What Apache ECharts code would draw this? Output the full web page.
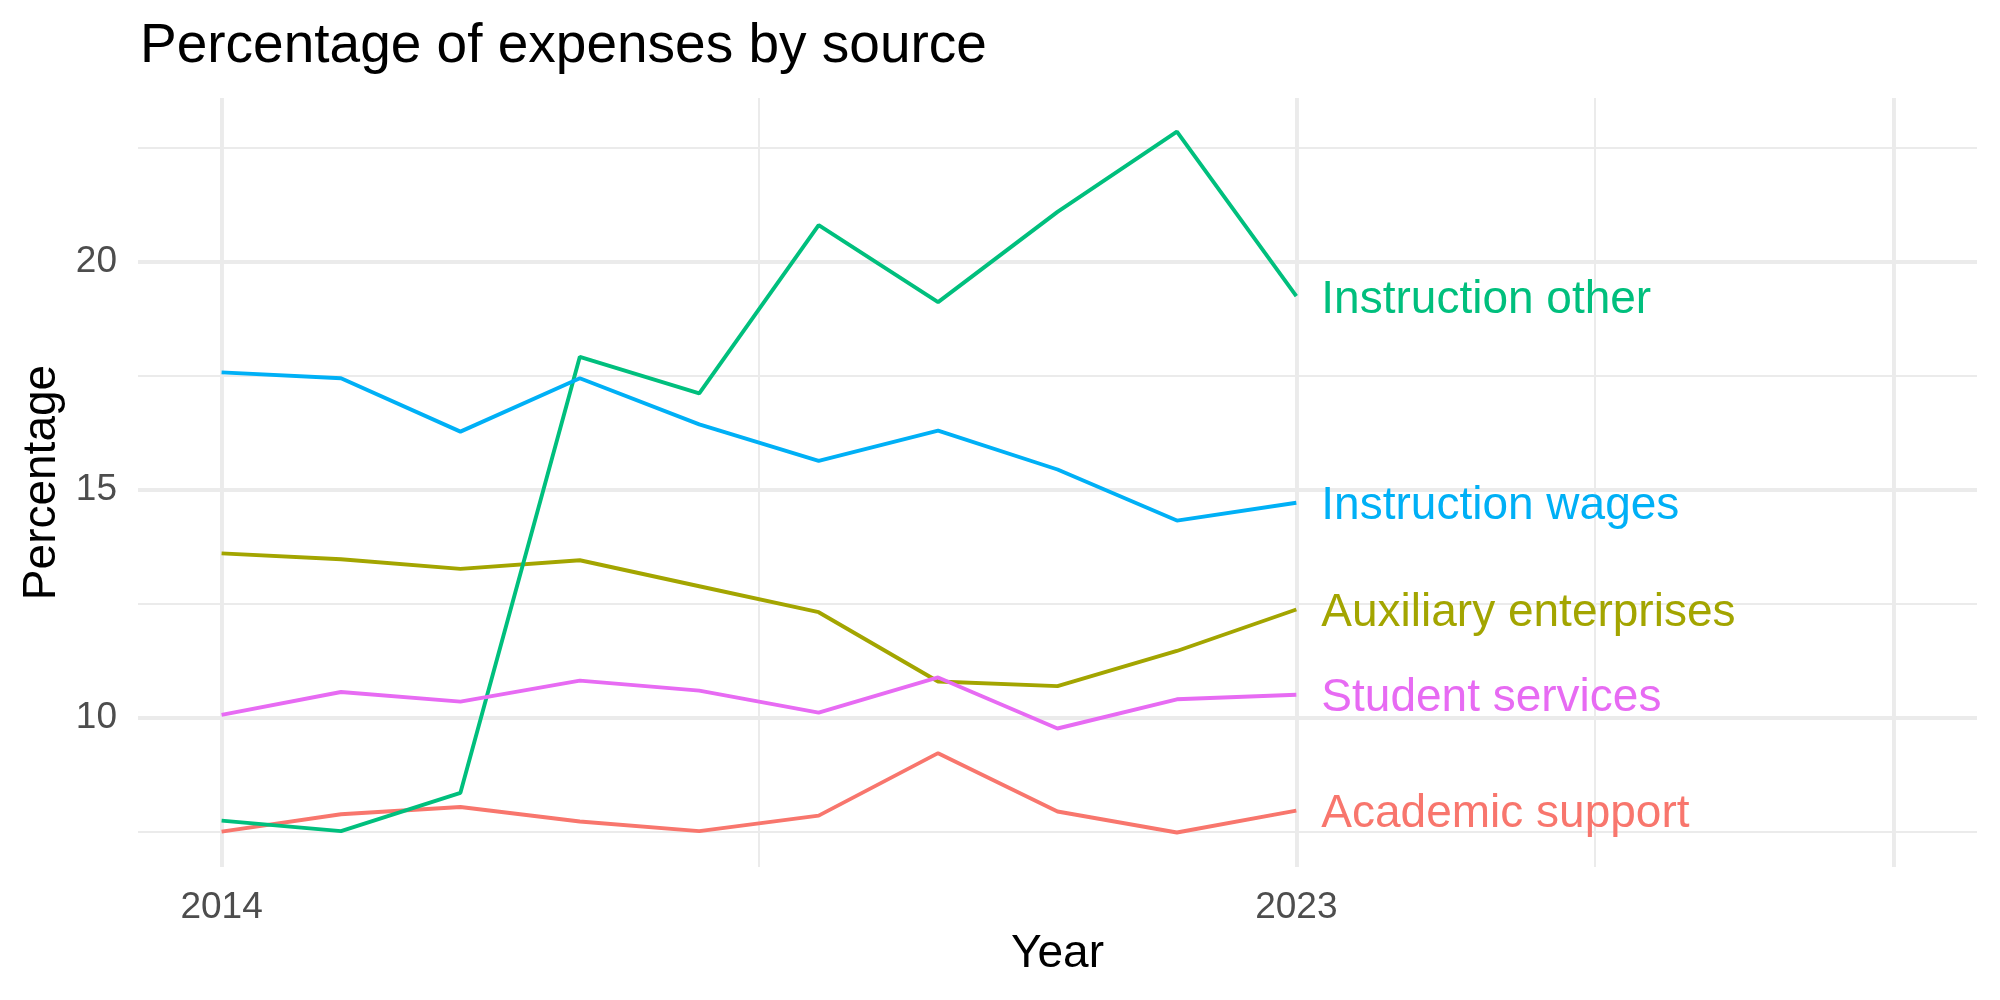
<!DOCTYPE html>
<html>
<head>
<meta charset="utf-8">
<script src="https://cdn.jsdelivr.net/npm/echarts@6/dist/echarts.min.js"></script>
<style>
	html, body { margin: 0; padding: 0; background: #fff; }
	#div1 { width: 2000px; height: 1000px; }
</style>
</head>
<body>
<div id="div1"></div>
<script>
var years = [2014, 2015, 2016, 2017, 2018, 2019, 2020, 2021, 2022, 2023];
var academicSupport = [7.51, 7.89, 8.05, 7.73, 7.52, 7.86, 9.23, 7.95, 7.49, 7.97];
var auxiliary = [13.61, 13.48, 13.27, 13.46, 12.89, 12.32, 10.80, 10.70, 11.47, 12.38];
var instructionOther = [7.75, 7.52, 8.36, 17.92, 17.12, 20.81, 19.12, 21.10, 22.86, 19.25];
var instructionWages = [17.58, 17.45, 16.28, 17.45, 16.44, 15.64, 16.30, 15.45, 14.33, 14.72];
var studentServices = [10.07, 10.57, 10.36, 10.82, 10.60, 10.12, 10.89, 9.77, 10.41, 10.51];

var seriesNames = ['Academic support', 'Auxiliary enterprises', 'Instruction other', 'Instruction wages', 'Student services'];
var seriesValues = [academicSupport, auxiliary, instructionOther, instructionWages, studentServices];
var seriesColors = ['#F8766D', '#A3A500', '#00BF7D', '#00B0F6', '#E76BF3'];

var xLabels = [2014, 2023];
var yLabels = [10, 15, 20];
var xMajor = [2014, 2023, 2028];
var xMinor = [2018.5, 2025.5];
var yMajor = [10, 15, 20];
var yMinor = [7.5, 12.5, 17.5, 22.5];

var font = 'Liberation Sans';

function pairs(vals) {
	var out = [];
	for (var i = 0; i < years.length; i++) {
		out.push([years[i], vals[i]]);
	}
	return out;
}

// grid lines drawn as mark lines so the uneven breaks fit
var gridLines = [];
xMajor.forEach(function(v){ gridLines.push({xAxis: v, lineStyle: {width: 3.9}}); });
xMinor.forEach(function(v){ gridLines.push({xAxis: v, lineStyle: {width: 2}}); });
yMajor.forEach(function(v){ gridLines.push({yAxis: v, lineStyle: {width: 3.9}}); });
yMinor.forEach(function(v){ gridLines.push({yAxis: v, lineStyle: {width: 2}}); });

var series = [{
	name: 'grid',
	type: 'line',
	data: [],
	z: 0,
	silent: true,
	markLine: {
		z: 0,
		silent: true,
		animation: false,
		symbol: ['none', 'none'],
		label: {show: false},
		lineStyle: {color: '#EBEBEB', type: 'solid'},
		data: gridLines
	}
}];

for (var i = 0; i < seriesNames.length; i++) {
	series.push({
		name: seriesNames[i],
		type: 'line',
		z: 3,
		data: pairs(seriesValues[i]),
		showSymbol: false,
		lineStyle: {color: seriesColors[i], width: 3.9},
		itemStyle: {color: seriesColors[i]},
		endLabel: {
			show: true,
			formatter: '{a}',
			color: seriesColors[i],
			fontFamily: font,
			fontSize: 46,
			distance: 25,
			offset: [0, 4]
		}
	});
}

var chart = echarts.init(document.getElementById('div1'));
chart.setOption({
	animation: false,
	backgroundColor: '#fff',
	title: {
		text: 'Percentage of expenses by source',
		left: 140,
		top: 19,
		padding: 0,
		textStyle: {
			fontFamily: font,
			fontSize: 55,
			fontWeight: 'normal',
			color: '#000'
		}
	},
	grid: {
		left: 138,
		right: 23,
		top: 98,
		bottom: 133,
		containLabel: false,
		outerBoundsMode: 'none'
	},
	xAxis: {
		type: 'value',
		min: 2013.3,
		max: 2028.7,
		name: 'Year',
		nameLocation: 'middle',
		nameGap: 62,
		nameTextStyle: {fontFamily: font, fontSize: 46, color: '#000'},
		axisLine: {show: false},
		axisTick: {show: false},
		splitLine: {show: false},
		axisLabel: {
			customValues: xLabels,
			formatter: function(v){ return String(v); },
			fontFamily: font,
			fontSize: 37,
			color: '#4D4D4D',
			margin: 22
		}
	},
	yAxis: {
		type: 'value',
		min: 6.733,
		max: 23.596,
		name: 'Percentage',
		nameLocation: 'middle',
		nameRotate: 90,
		nameGap: 72,
		nameTextStyle: {fontFamily: font, fontSize: 46, color: '#000'},
		axisLine: {show: false},
		axisTick: {show: false},
		splitLine: {show: false},
		axisLabel: {
			customValues: yLabels,
			fontFamily: font,
			fontSize: 37,
			color: '#4D4D4D',
			margin: 21
		}
	},
	series: series
});
</script>
</body>
</html>
